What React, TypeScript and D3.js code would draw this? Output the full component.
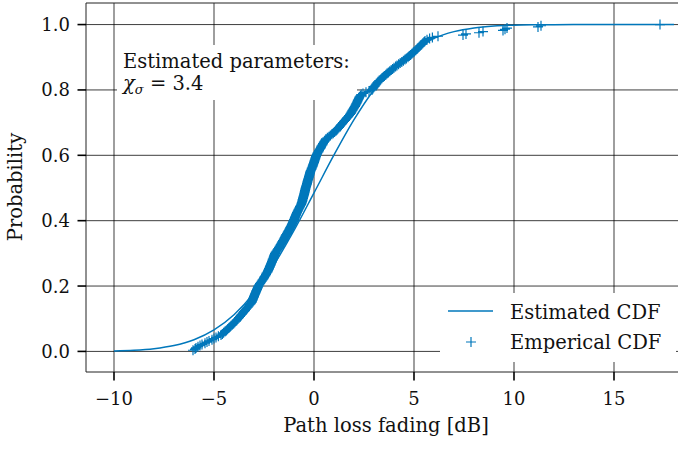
import React from "react";
import * as d3 from "d3";

const X_TICKS = [-10, -5, 0, 5, 10, 15];
const Y_TICKS = [0, 0.2, 0.4, 0.6, 0.8, 1.0];

// Estimated CDF
const EST_X = [-10, -9, -8, -7, -6, -5, -4, -3, -2, -1, 0, 1, 2, 3, 4, 5, 6, 7, 8, 9, 10, 11, 12, 14, 16, 18];
const EST_P = [0.0015, 0.0036, 0.0084, 0.018, 0.0357, 0.0657, 0.112, 0.1786, 0.2655, 0.37, 0.485, 0.601, 0.709, 0.8007, 0.8725, 0.924, 0.958, 0.9784, 0.9897, 0.9955, 0.9982, 0.9993, 0.9998, 1.0, 1.0, 1.0];

const EMP_X = [
  -6.05, -5.95, -5.9, -5.8, -5.7, -5.6, -5.45,
  -5.35, -5.25, -5.1, -5.0, -4.9, -4.78, -4.65,
  -4.58, -4.52, -4.45, -4.38, -4.32, -4.26, -4.2,
  -4.15, -4.08, -4.02, -3.96, -3.9, -3.85, -3.8,
  -3.75, -3.7, -3.65, -3.6, -3.55, -3.5, -3.45,
  -3.41, -3.36, -3.31, -3.26, -3.21, -3.16, -3.12,
  -3.1, -3.07, -3.05, -3.02, -3.0, -2.98, -2.95,
  -2.93, -2.9, -2.88, -2.85, -2.83, -2.8, -2.78,
  -2.74, -2.7, -2.66, -2.62, -2.58, -2.54, -2.5,
  -2.47, -2.43, -2.4, -2.37, -2.33, -2.3, -2.27,
  -2.25, -2.22, -2.2, -2.17, -2.15, -2.12, -2.1,
  -2.08, -2.06, -2.03, -2.01, -1.99, -1.97, -1.95,
  -1.91, -1.87, -1.83, -1.79, -1.75, -1.72, -1.68,
  -1.65, -1.61, -1.58, -1.55, -1.51, -1.48, -1.45,
  -1.42, -1.39, -1.35, -1.32, -1.29, -1.25, -1.22,
  -1.19, -1.16, -1.13, -1.1, -1.07, -1.05, -1.02,
  -1.0, -0.97, -0.95, -0.92, -0.9, -0.87, -0.85,
  -0.82, -0.79, -0.76, -0.73, -0.7, -0.67, -0.64,
  -0.62, -0.6, -0.58, -0.57, -0.55, -0.54, -0.52,
  -0.5, -0.49, -0.47, -0.46, -0.45, -0.43, -0.42,
  -0.4, -0.38, -0.36, -0.35, -0.33, -0.32, -0.3,
  -0.28, -0.26, -0.25, -0.23, -0.21, -0.2, -0.18,
  -0.16, -0.13, -0.11, -0.08, -0.06, -0.04, -0.02,
  0.0, 0.02, 0.04, 0.06, 0.08, 0.1, 0.12,
  0.15, 0.18, 0.22, 0.25, 0.28, 0.32, 0.35,
  0.38, 0.42, 0.45, 0.49, 0.52, 0.56, 0.6,
  0.67, 0.75, 0.82, 0.89, 0.96, 1.03, 1.1,
  1.15, 1.2, 1.25, 1.3, 1.35, 1.4, 1.45,
  1.5, 1.55, 1.6, 1.65, 1.7, 1.75, 1.8,
  1.84, 1.87, 1.91, 1.94, 1.98, 2.01, 2.05,
  2.08, 2.11, 2.14, 2.17, 2.19, 2.22, 2.25,
  2.28, 2.32, 2.36, 2.45, 2.6, 2.75, 2.9,
  2.94, 2.98, 3.03, 3.07, 3.11, 3.16, 3.2,
  3.26, 3.33, 3.39, 3.46, 3.52, 3.59, 3.65,
  3.72, 3.79, 3.86, 3.93, 4.0, 4.08, 4.15,
  4.23, 4.31, 4.39, 4.47, 4.55, 4.62, 4.7,
  4.76, 4.83, 4.89, 4.96, 5.02, 5.09, 5.15,
  5.2, 5.26, 5.32, 5.38, 5.44, 5.5, 5.55,
  5.65, 5.78, 5.92,
  6.2, 7.45, 7.6, 8.25, 8.45, 9.45, 9.55, 9.65, 11.2, 11.35, 17.3,
];

const X_LABEL = "Path loss fading [dB]";
const Y_LABEL = "Probability";
const LEGEND_LABELS = ["Estimated CDF", "Emperical CDF"];

const W = 678;
const H = 449;
const BLUE = "#0077bb";
const FONT = "DejaVu Serif";
const FS = 19.5;
const FS_TICK = 18;

export default function App() {
  const left = 86, right = 702, top = 3, bottom = 372;
  const x = d3.scaleLinear().domain([-11.4, 19.4]).range([left, right]);
  const y = d3.scaleLinear().domain([-0.063, 1.066]).range([bottom, top]);

  const estLine = d3
    .line<number>()
    .x((_, i) => x(EST_X[i]))
    .y((d) => y(d))
    .curve(d3.curveMonotoneX)(EST_P) as string;

  const N = EMP_X.length;
  const plusPath = (cx: number, cy: number, s = 5) =>
    `M${cx - s},${cy}H${cx + s}M${cx},${cy - s}V${cy + s}`;
  const empPath = EMP_X.map((v, i) => plusPath(x(v), y((i + 1) / N))).join("");

  const gridColor = "#000";
  return (
    <svg
      width={W}
      height={H}
      style={{ position: "absolute", left: 0, top: 0, background: "#fff" }}
      fontFamily={FONT}
      fontSize={FS}
    >
      <rect x={0} y={0} width={W} height={H} fill="#fff" />
      {/* grid */}
      <g stroke={gridColor} strokeOpacity={0.85} strokeWidth={0.9}>
        {X_TICKS.map((t) => (
          <line key={"gx" + t} x1={x(t)} x2={x(t)} y1={top} y2={bottom} />
        ))}
        {Y_TICKS.map((t) => (
          <line key={"gy" + t} x1={left} x2={right} y1={y(t)} y2={y(t)} />
        ))}
      </g>
      {/* spines */}
      <g stroke="#222" strokeWidth={1} fill="none">
        <line x1={left} x2={left} y1={top} y2={bottom} />
        <line x1={left} x2={right} y1={bottom} y2={bottom} />
        <line x1={left} x2={right} y1={top} y2={top} />
      </g>
      {/* ticks */}
      <g stroke="#000" strokeWidth={1.6}>
        {X_TICKS.map((t) => (
          <line key={"tx" + t} x1={x(t)} x2={x(t)} y1={bottom} y2={bottom + 8.5} />
        ))}
        {Y_TICKS.map((t) => (
          <line key={"ty" + t} x1={left - 8.5} x2={left} y1={y(t)} y2={y(t)} />
        ))}
      </g>
      <g fill="#111">
        {X_TICKS.map((t) => (
          <text key={"lx" + t} x={x(t)} y={405} textAnchor="middle" fontSize={FS_TICK}>
            {t < 0 ? "\u2212" + Math.abs(t) : String(t)}
          </text>
        ))}
        {Y_TICKS.map((t) => (
          <text key={"ly" + t} x={70} y={y(t) + 6.5} textAnchor="end" fontSize={FS_TICK}>
            {t.toFixed(1)}
          </text>
        ))}
        <text x={386} y={432} textAnchor="middle">{X_LABEL}</text>
        <text transform="translate(22,187) rotate(-90)" textAnchor="middle">{Y_LABEL}</text>
      </g>
      {/* annotation box */}
      <rect x={117} y={45} width={240} height={55} fill="#fff" />
      <g fill="#111">
        <text x={123} y={68}>Estimated parameters:</text>
        <text x={123} y={90}>
          <tspan fontStyle="italic">χ</tspan>
          <tspan fontStyle="italic" fontSize={13} dy={4}>σ</tspan>
          <tspan dy={-4}> = 3.4</tspan>
        </text>
      </g>
      {/* data */}
      <path d={estLine} fill="none" stroke={BLUE} strokeWidth={1.5} />
      <path d={empPath} fill="none" stroke={BLUE} strokeWidth={1.2} />
      {/* legend */}
      <rect x={440} y={293} width={236} height={69} fill="#fff" />
      <line x1={448} x2={493} y1={311} y2={311} stroke={BLUE} strokeWidth={1.5} />
      <path d={plusPath(471, 342, 5)} stroke={BLUE} strokeWidth={1.2} fill="none" />
      <g fill="#111">
        <text x={510} y={319}>{LEGEND_LABELS[0]}</text>
        <text x={510} y={349}>{LEGEND_LABELS[1]}</text>
      </g>
    </svg>
  );
}
